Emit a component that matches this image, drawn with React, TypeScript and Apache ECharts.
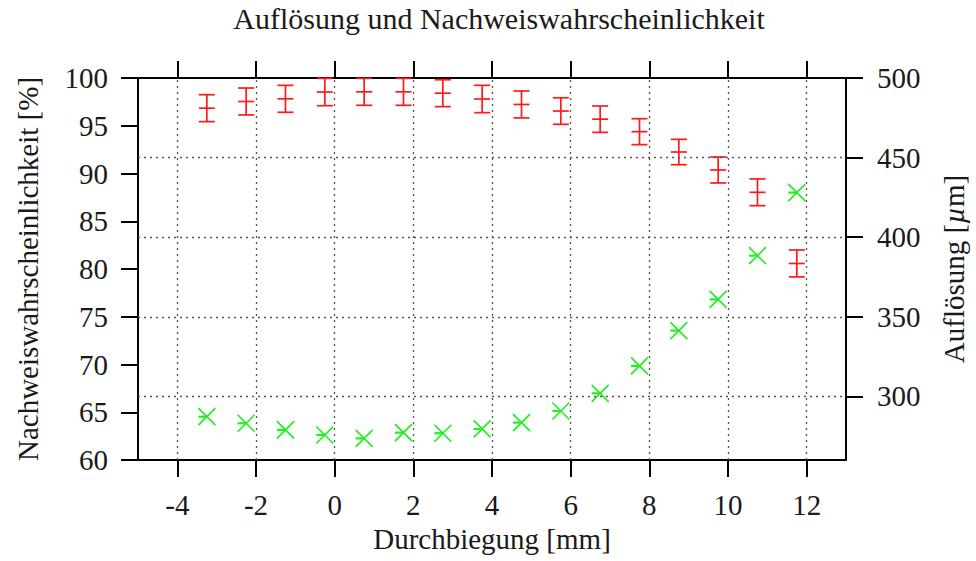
import React, { useEffect, useRef } from "react";
import * as echarts from "echarts";

const xPositions = [-3.25, -2.25, -1.25, -0.25, 0.75, 1.75, 2.75, 3.75, 4.75, 5.75, 6.75, 7.75, 8.75, 9.75, 10.75, 11.75];
const detection = [96.84, 97.54, 97.82, 98.53, 98.55, 98.55, 98.41, 97.8, 97.23, 96.54, 95.69, 94.38, 92.25, 90.37, 88.03, 80.58];
const detectionErr = [1.41, 1.41, 1.41, 1.43, 1.41, 1.41, 1.41, 1.43, 1.41, 1.39, 1.38, 1.36, 1.33, 1.36, 1.4, 1.41];
const resolution = [287.2, 283.1, 278.9, 275.7, 273.6, 277.2, 276.8, 279.5, 283.5, 290.8, 301.9, 319.1, 341.3, 360.9, 388.4, 428.0];
const xTicks = [-4, -2, 0, 2, 4, 6, 8, 10, 12];
const y2Ticks = [300, 350, 400, 450, 500];
const y2Grid = [300, 350, 400, 450];

const FONT = "'Liberation Serif', 'Times New Roman', serif";
const TXT = "#1a1a1a";
const RED = "#ff1a1a";
const GREEN = "#22ee22";

export default function App() {
  const ref = useRef<HTMLDivElement>(null);
  useEffect(() => {
    if (!ref.current) return;
    const chart = echarts.init(ref.current, null, { renderer: "svg" });
    const axisLine = { show: true, onZero: false, lineStyle: { color: "#000", width: 2 } };
    const axisTick = (vals?: number[]) => ({
      show: true,
      inside: false,
      length: 17,
      lineStyle: { color: "#000", width: 2 },
      ...(vals ? { customValues: vals } : {}),
    });
    const labelStyle = { fontFamily: FONT, fontSize: 29, color: TXT };
    const gridLineStyle = { color: "#555", width: 1.3, type: [2, 4] as any };

    chart.setOption({
      animation: false,
      backgroundColor: "#fff",
      title: {
        text: "Auflösung und Nachweiswahrscheinlichkeit",
        left: 494,
        top: -2,
        textAlign: "center",
        textStyle: { fontFamily: FONT, fontSize: 30, fontWeight: "normal", color: TXT },
      },
      grid: { left: 138, right: 126, top: 78, bottom: 101, containLabel: false },
      xAxis: [
        {
          type: "value",
          min: -5,
          max: 13,
          position: "bottom",
          axisLine,
          axisTick: axisTick(xTicks),
          axisLabel: { ...labelStyle, customValues: xTicks, margin: 30 },
          splitLine: { show: false },
          name: "Durchbiegung [mm]",
          nameLocation: "middle",
          nameGap: 64,
          nameTextStyle: labelStyle,
        },
        {
          type: "value",
          min: -5,
          max: 13,
          position: "top",
          axisLine,
          axisTick: axisTick(xTicks),
          axisLabel: { show: false },
          splitLine: { show: false },
        },
      ],
      yAxis: [
        {
          type: "value",
          min: 60,
          max: 100,
          interval: 5,
          position: "left",
          axisLine,
          axisTick: axisTick(),
          axisLabel: { ...labelStyle, margin: 30 },
          splitLine: { show: false },
          name: "Nachweiswahrscheinlichkeit [%]",
          nameLocation: "middle",
          nameRotate: 90,
          nameGap: 96,
          nameTextStyle: labelStyle,
        },
        {
          type: "value",
          min: 260,
          max: 500,
          position: "right",
          axisLine,
          axisTick: axisTick(y2Ticks),
          axisLabel: { ...labelStyle, customValues: y2Ticks, margin: 31 },
          splitLine: { show: false },
          name: "Auflösung [{i|µ}m]",
          nameLocation: "middle",
          nameRotate: 90,
          nameGap: 93,
          nameTextStyle: {
            ...labelStyle,
            rich: { i: { fontFamily: FONT, fontSize: 29, fontStyle: "italic", color: TXT } },
          },
        },
      ],
      series: [
        {
          type: "custom",
          name: "grid",
          xAxisIndex: 0,
          yAxisIndex: 1,
          data: [],
          renderItem: () => null,
          silent: true,
          z: 1,
          markLine: {
            silent: true,
            symbol: "none",
            label: { show: false },
            lineStyle: gridLineStyle,
            data: [
              ...xTicks.map((v) => ({ xAxis: v })),
              ...y2Grid.map((v) => ({ yAxis: v })),
            ],
          },
        },
        {
          type: "custom",
          name: "Nachweiswahrscheinlichkeit",
          xAxisIndex: 0,
          yAxisIndex: 0,
          z: 3,
          data: xPositions.map((x, i) => [x, detection[i], detectionErr[i]]),
          encode: { x: 0, y: 1 },
          renderItem: (params: any, api: any) => {
            const x = api.value(0);
            const y = api.value(1);
            const e = api.value(2);
            const c = api.coord([x, y]);
            const t = api.coord([x, y + e]);
            const b = api.coord([x, y - e]);
            const hw = 8;
            const st = { stroke: RED, lineWidth: 1.7, fill: null };
            return {
              type: "group",
              children: [
                { type: "line", shape: { x1: c[0], y1: t[1], x2: c[0], y2: b[1] }, style: st },
                { type: "line", shape: { x1: c[0] - hw, y1: t[1], x2: c[0] + hw, y2: t[1] }, style: st },
                { type: "line", shape: { x1: c[0] - hw, y1: b[1], x2: c[0] + hw, y2: b[1] }, style: st },
                { type: "line", shape: { x1: c[0] - hw, y1: c[1], x2: c[0] + hw, y2: c[1] }, style: st },
              ],
            };
          },
        },
        {
          type: "custom",
          name: "Auflösung",
          xAxisIndex: 0,
          yAxisIndex: 1,
          z: 3,
          data: xPositions.map((x, i) => [x, resolution[i]]),
          encode: { x: 0, y: 1 },
          renderItem: (params: any, api: any) => {
            const c = api.coord([api.value(0), api.value(1)]);
            const h = 8.5;
            const st = { stroke: GREEN, lineWidth: 1.7, fill: null };
            return {
              type: "group",
              children: [
                { type: "line", shape: { x1: c[0] - h, y1: c[1] - h, x2: c[0] + h, y2: c[1] + h }, style: st },
                { type: "line", shape: { x1: c[0] - h, y1: c[1] + h, x2: c[0] + h, y2: c[1] - h }, style: st },
                { type: "line", shape: { x1: c[0] - h, y1: c[1], x2: c[0], y2: c[1] }, style: { ...st, lineWidth: 2.2 } },
              ],
            };
          },
        },
      ],
    });
    return () => chart.dispose();
  }, []);
  return (
    <div
      ref={ref}
      style={{ position: "fixed", left: 0, top: 0, width: 976, height: 561, background: "#fff" }}
    />
  );
}
